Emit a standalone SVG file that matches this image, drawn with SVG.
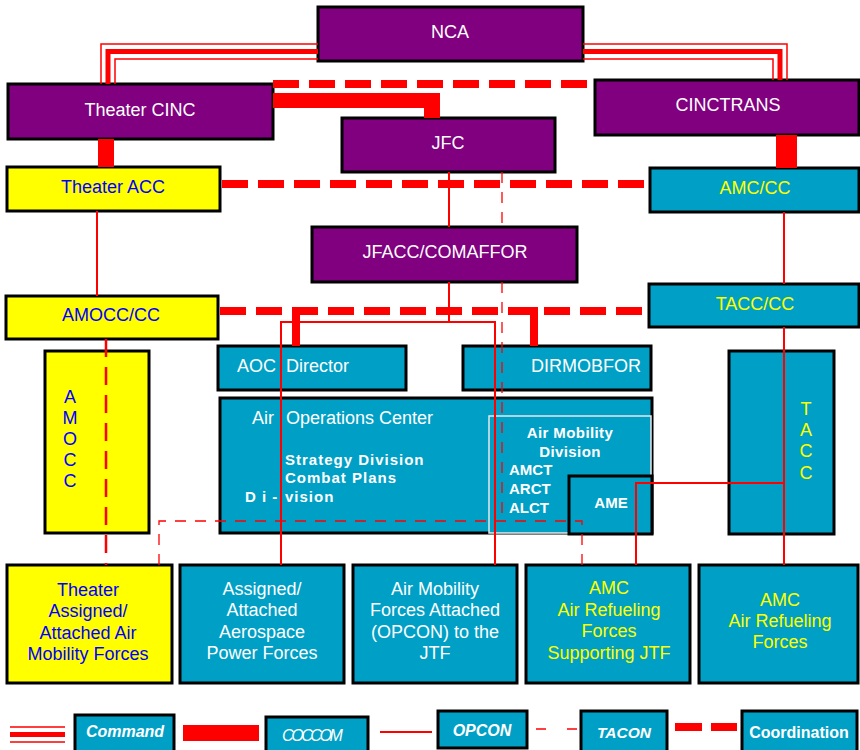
<svg xmlns="http://www.w3.org/2000/svg" width="860" height="750" viewBox="0 0 860 750">
<defs>
<style>
text{font-family:"Liberation Sans",Arial,sans-serif;}
.box{stroke:#000;stroke-width:3;}
.p{fill:#800080;}
.t{fill:#00A0C6;}
.y{fill:#FFFF00;}
.lw{fill:#FFFFFF;font-size:18px;}
.lb{fill:#0000FF;font-size:18px;}
.ly{fill:#FFFF00;font-size:18px;}
.bw{fill:#FFFFFF;font-size:15px;font-weight:bold;}
.m{text-anchor:middle;}
.cmdthin{fill:none;stroke:#FF0000;stroke-width:1.5;}
.cmdthick{fill:none;stroke:#FF0000;stroke-width:5;}
.coord{fill:none;stroke:#FF0000;stroke-width:8;stroke-dasharray:26 10;}
.opcon{fill:none;stroke:#FF0000;stroke-width:2;}
.tacon{fill:none;stroke:#FF0000;stroke-width:1.3;stroke-dasharray:11 9;}
.heavy{fill:none;stroke:#FF0000;stroke-width:2.5;stroke-dasharray:18 10;}
.coc{fill:#FF0000;}
.leg{fill:#FFFFFF;font-size:16px;font-weight:bold;font-style:italic;}
</style>
</defs>
<rect width="860" height="750" fill="#FFFFFF"/>

<g id="NCA"><rect class="box p" x="318" y="7" width="265" height="54"/><text class="lw m" x="450" y="38">NCA</text></g>
<g id="TheaterCINC"><rect class="box p" x="8" y="84" width="265" height="55"/><text class="lw m" x="140" y="116">Theater CINC</text></g>
<g id="CINCTRANS"><rect class="box p" x="595" y="80" width="264" height="55"/><text class="lw m" x="728" y="111">CINCTRANS</text></g>
<g id="JFC"><rect class="box p" x="342" y="118" width="213" height="54"/><text class="lw m" x="448" y="149">JFC</text></g>
<g id="TheaterACC"><rect class="box y" x="7" y="167" width="213" height="44"/><text class="lb m" x="113" y="193">Theater ACC</text></g>
<g id="AMCCC"><rect class="box t" x="650" y="168" width="209" height="44"/><text class="ly m" x="755" y="194">AMC/CC</text></g>
<g id="JFACC"><rect class="box p" x="312" y="227" width="265" height="55"/><text class="lw m" x="445" y="258">JFACC/COMAFFOR</text></g>
<g id="AMOCCCC"><rect class="box y" x="6" y="296" width="212" height="43"/><text class="lb m" x="111" y="321">AMOCC/CC</text></g>
<g id="TACCCC"><rect class="box t" x="649" y="284" width="210" height="43"/><text class="ly m" x="755" y="310">TACC/CC</text></g>
<g id="AOCDirector"><rect class="box t" x="218" y="346" width="188" height="44"/><text class="lw" y="372"><tspan x="237">AOC</tspan><tspan x="286">Director</tspan></text></g>
<g id="DIRMOBFOR"><rect class="box t" x="463" y="346" width="188" height="44"/><text class="lw" x="531" y="372">DIRMOBFOR</text></g>
<g id="AMOCC"><rect class="box y" x="45" y="351" width="104" height="182"/>
<text class="lb m" x="70" y="403">A</text><text class="lb m" x="70" y="424">M</text><text class="lb m" x="70" y="445">O</text><text class="lb m" x="70" y="466">C</text><text class="lb m" x="70" y="487">C</text></g>
<g id="TACC"><rect class="box t" x="729" y="351" width="105" height="183"/>
<text class="ly m" x="806" y="415">T</text><text class="ly m" x="806" y="436">A</text><text class="ly m" x="806" y="457">C</text><text class="ly m" x="806" y="479">C</text></g>
<g id="AOC"><rect class="box t" x="220" y="398" width="432" height="135"/>
<text class="lw" y="424"><tspan x="252">Air</tspan><tspan x="286">Operations Center</tspan></text>
<text class="bw" style="letter-spacing:1px" x="285" y="465">Strategy Division</text>
<text class="bw" style="letter-spacing:1px" x="285" y="483">Combat Plans</text>
<text class="bw" style="letter-spacing:1px" y="502"><tspan x="245">D i -</tspan><tspan x="285">vision</tspan></text></g>
<g id="AMD"><rect x="489" y="416" width="162" height="117" fill="#00A0C6" stroke="#E8E8E8" stroke-width="1.5"/>
<text class="bw m" style="letter-spacing:0.4px" x="570" y="438">Air Mobility</text>
<text class="bw m" style="letter-spacing:0.4px" x="570" y="457">Division</text>
<text class="bw" x="509" y="475">AMCT</text><text class="bw" x="509" y="494">ARCT</text><text class="bw" x="509" y="513">ALCT</text></g>
<g id="AME"><rect class="box t" x="569" y="476" width="83" height="58"/><text class="bw m" x="611" y="508">AME</text></g>

<g id="TheaterForces"><rect class="box y" x="7" y="565" width="165" height="118"/>
<text class="lb m" x="88" y="596">Theater</text><text class="lb m" x="88" y="617">Assigned/</text><text class="lb m" x="88" y="639">Attached Air</text><text class="lb m" x="88" y="660">Mobility Forces</text></g>
<g id="AerospaceForces"><rect class="box t" x="180" y="565" width="164" height="118"/>
<text class="lw m" x="262" y="595">Assigned/</text><text class="lw m" x="262" y="616">Attached</text><text class="lw m" x="262" y="638">Aerospace</text><text class="lw m" x="262" y="659">Power Forces</text></g>
<g id="AirMobilityForces"><rect class="box t" x="353" y="565" width="164" height="118"/>
<text class="lw m" x="435" y="595">Air Mobility</text><text class="lw m" x="435" y="616">Forces Attached</text><text class="lw m" x="435" y="638">(OPCON) to the</text><text class="lw m" x="435" y="659">JTF</text></g>
<g id="AMCSupporting"><rect class="box t" x="526" y="565" width="164" height="118"/>
<text class="ly m" x="609" y="594">AMC</text><text class="ly m" x="609" y="616">Air Refueling</text><text class="ly m" x="609" y="637">Forces</text><text class="ly m" x="609" y="659">Supporting JTF</text></g>
<g id="AMCRefueling"><rect class="box t" x="699" y="565" width="159" height="118"/>
<text class="ly m" x="780" y="606">AMC</text><text class="ly m" x="780" y="627">Air Refueling</text><text class="ly m" x="780" y="648">Forces</text></g>

<g id="connectors">
<path class="cmdthin" d="M318,44 H101 V84"/>
<path class="cmdthick" d="M318,51.5 H108 V84"/>
<path class="cmdthin" d="M318,59 H115 V84"/>
<path class="cmdthin" d="M583,44 H787 V80"/>
<path class="cmdthick" d="M583,51.5 H780 V80"/>
<path class="cmdthin" d="M583,59 H773 V80"/>
<path class="coord" d="M273,84 H595"/>
<path class="coord" d="M222,184 H650"/>
<path class="coord" d="M220,311 H649"/>
<path class="coc" d="M273,93 H440 V118 H424 V108 H273 Z"/>
<rect class="coc" x="98" y="139" width="16" height="28"/>
<rect class="coc" x="776" y="135" width="21" height="33"/>
<rect class="coc" x="292" y="307" width="8" height="39"/>
<path class="coc" d="M512,307 H538 V346 H530 V315 H512 Z"/>
<path class="opcon" d="M97,211 V296"/>
<path class="opcon" d="M449,172 V227"/>
<path class="opcon" d="M449,282 V322"/>
<path class="opcon" d="M281,565 V322 H495 V565"/>
<path class="opcon" d="M784,212 V284"/>
<path class="opcon" d="M784,327 V565"/>
<path class="opcon" d="M784,483 H636 V565"/>
<path class="tacon" d="M502,172 V227"/>
<path class="tacon" d="M502,282 V521"/>
<path class="tacon" d="M159,565 V521 H582 V565"/>
<path class="heavy" d="M106,339 V565"/>
</g>

<g id="legend">
<path class="cmdthin" d="M10,727 H65 M10,742 H65"/>
<path class="cmdthick" d="M10,734.5 H65"/>
<rect class="box t" x="75" y="715" width="99" height="40"/>
<text class="leg m" x="125" y="737">Command</text>
<rect class="coc" x="183" y="725" width="76" height="16"/>
<rect class="box t" x="266" y="717" width="102" height="40"/>
<text x="282" y="741" style="fill:#FFFFFF;font-size:16px;font-style:italic;letter-spacing:-2.4px">COCCOM</text>
<path class="opcon" d="M380,732 H432"/>
<rect class="box t" x="438" y="711" width="89" height="37"/>
<text class="leg m" x="482" y="736">OPCON</text>
<path class="opcon" style="stroke-width:1.3" d="M536,729 H546 M567,729 H577"/>
<rect class="box t" x="581" y="711" width="86" height="42"/>
<text class="leg m" style="font-size:15.5px" x="624" y="738">TACON</text>
<path class="opcon" style="stroke-width:8" d="M675,727 H702 M711,727 H737"/>
<rect class="box t" x="742" y="711" width="115" height="42"/>
<text class="m" x="799" y="738" style="fill:#FFFFFF;font-size:16px;font-weight:bold">Coordination</text>
</g>
</svg>
